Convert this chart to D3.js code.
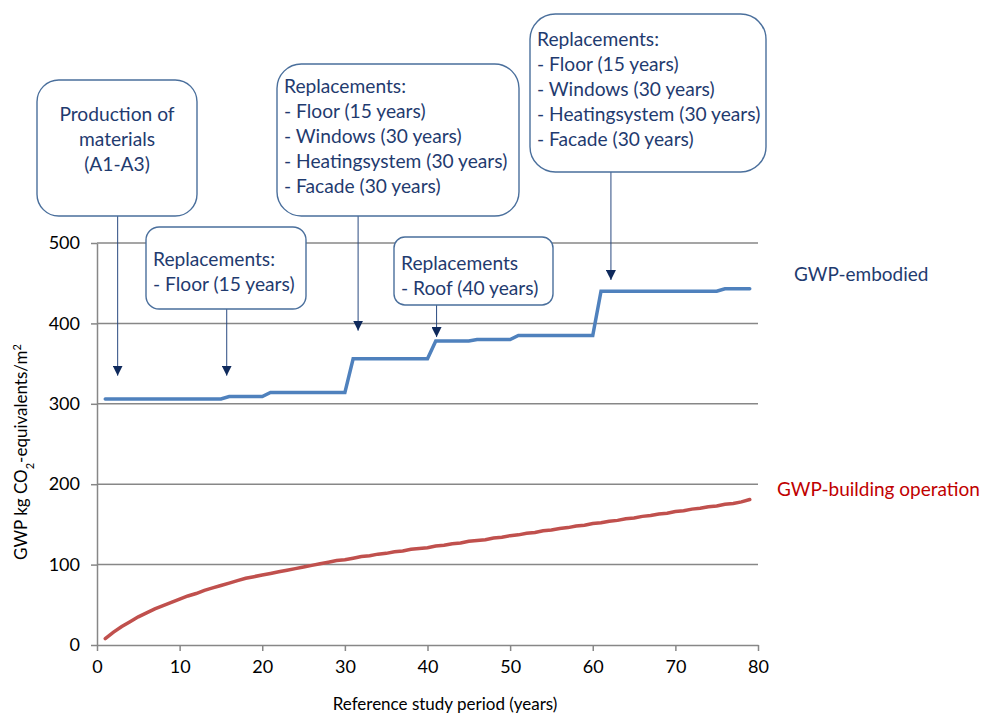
<!DOCTYPE html>
<html>
<head>
<meta charset="utf-8">
<script src="https://cdn.jsdelivr.net/npm/d3@7"></script>
<style>
  body { margin: 0; background: #fff; }
  text { font-family: Lato, "Open Sans", sans-serif; }
</style>
</head>
<body>
<script>
// years of the reference study period
const years = d3.range(1, 80);

// GWP-embodied, kg CO2-eq/m2
const embodied = [
  306, 306, 306, 306, 306, 306, 306, 306, 306, 306, 306, 306, 306, 306, 306,
  309, 309, 309, 309, 309,
  314, 314, 314, 314, 314, 314, 314, 314, 314, 314,
  356, 356, 356, 356, 356, 356, 356, 356, 356, 356,
  378, 378, 378, 378, 378,
  380, 380, 380, 380, 380,
  385, 385, 385, 385, 385, 385, 385, 385, 385, 385,
  440, 440, 440, 440, 440, 440, 440, 440, 440, 440, 440, 440, 440, 440, 440,
  443, 443, 443, 443
];

// GWP-building operation, cumulative
const operation = [
  8, 16, 23, 29, 35, 40, 45, 49, 53, 57,
  61, 64, 68, 71, 74, 77, 80, 83, 85, 87,
  89, 91, 93, 95, 97, 99, 101, 103, 105, 106,
  108, 110, 111, 113, 114, 116, 117, 119, 120, 121,
  123, 124, 126, 127, 129, 130, 131, 133, 134, 136,
  137, 139, 140, 142, 143, 145, 146, 148, 149, 151,
  152, 154, 155, 157, 158, 160, 161, 163, 164, 166,
  167, 169, 170, 172, 173, 175, 176, 178, 181
];

const xTicks = [0, 10, 20, 30, 40, 50, 60, 70, 80];
const yTicks = [0, 100, 200, 300, 400, 500];

// callout boxes: text, box rect, first baseline, arrow year / arrow tip value
const notes = [
  { lines: ['Production of', 'materials', '(A1-A3)'], box: [37, 80, 160, 136], ty: 41, center: true, year: 2.5, tip: 335 },
  { lines: ['Replacements:', '- Floor (15 years)'], box: [146, 227, 160, 82], ty: 39, year: 15.7, tip: 335 },
  { lines: ['Replacements:', '- Floor (15 years)', '- Windows (30 years)', '- Heatingsystem (30 years)', '- Facade (30 years)'], box: [277, 64, 242, 152], ty: 29, year: 31.6, tip: 391 },
  { lines: ['Replacements', '- Roof (40 years)'], box: [394, 237, 159, 68], ty: 33, year: 41.1, tip: 383 },
  { lines: ['Replacements:', '- Floor (15 years)', '- Windows (30 years)', '- Heatingsystem (30 years)', '- Facade (30 years)'], box: [530, 14, 236, 158], ty: 32, year: 62.2, tip: 454 }
];

var width = 982, height = 714;
var navy = '#1f3b6f';
var gridColor = '#878787';

var svg = d3.select('body')
  .append('svg')
  .attr('width', width)
  .attr('height', height);

var x = d3.scaleLinear().domain([0, 80]).range([97, 758]);
var y = d3.scaleLinear().domain([0, 500]).range([645, 243]);

// horizontal gridlines
svg.append('g')
  .selectAll('line')
  .data(yTicks.slice(1))
  .join('line')
  .attr('x1', x(0)).attr('x2', x(80))
  .attr('y1', d => y(d)).attr('y2', d => y(d))
  .attr('stroke', gridColor)
  .attr('stroke-width', 1.5);

// y axis
var yAxis = svg.append('g')
  .attr('transform', 'translate(' + x(0) + ',0)')
  .call(d3.axisLeft(y).tickValues(yTicks).tickSize(6).tickSizeOuter(0).tickPadding(11));
// x axis
var xAxis = svg.append('g')
  .attr('transform', 'translate(0,' + y(0) + ')')
  .call(d3.axisBottom(x).tickValues(xTicks).tickSize(6).tickSizeOuter(0).tickPadding(9));

[yAxis, xAxis].forEach(function (g) {
  g.select('.domain').attr('stroke', gridColor).attr('stroke-width', 1.5);
  g.selectAll('.tick line').attr('stroke', gridColor).attr('stroke-width', 1.5);
  g.selectAll('.tick text')
    .attr('fill', '#000')
    .style('font-size', '18px')
    .style('font-family', 'Lato, sans-serif');
});

// axis titles
svg.append('text')
  .attr('x', 445)
  .attr('y', 710)
  .attr('text-anchor', 'middle')
  .style('font-size', '17px')
  .text('Reference study period (years)');

var yTitle = svg.append('text')
  .attr('transform', 'translate(27,' + ((y(0) + y(500)) / 2 + 8) + ') rotate(-90)')
  .attr('text-anchor', 'middle')
  .style('font-size', '17px');
yTitle.append('tspan').text('GWP kg CO');
yTitle.append('tspan').attr('baseline-shift', 'sub').style('font-size', '11px').text('2');
yTitle.append('tspan').text('-equivalents/m');
yTitle.append('tspan').attr('baseline-shift', 'super').style('font-size', '11px').text('2');

// lines
var line = d3.line()
  .x((d, i) => x(years[i]))
  .y(d => y(d));

svg.append('path')
  .datum(operation)
  .attr('fill', 'none')
  .attr('stroke', '#c0504d')
  .attr('stroke-width', 3.5)
  .attr('stroke-linecap', 'round')
  .attr('d', line);

svg.append('path')
  .datum(embodied)
  .attr('fill', 'none')
  .attr('stroke', '#4f81bd')
  .attr('stroke-width', 3.5)
  .attr('stroke-linecap', 'round')
  .attr('d', line);

// series labels
svg.append('text')
  .attr('x', 794).attr('y', 281)
  .attr('fill', navy)
  .style('font-size', '19px')
  .text('GWP-embodied');

svg.append('text')
  .attr('x', 777).attr('y', 496)
  .attr('fill', '#c00000')
  .style('font-size', '19px')
  .text('GWP-building operation');

// arrow head
svg.append('defs').append('marker')
  .attr('id', 'head')
  .attr('markerUnits', 'userSpaceOnUse')
  .attr('viewBox', '0 0 10 10')
  .attr('refX', 10).attr('refY', 5)
  .attr('markerWidth', 10).attr('markerHeight', 10)
  .attr('orient', 'auto')
  .append('path')
  .attr('d', 'M0,0L10,5L0,10Z')
  .attr('fill', '#0f2a5c');

// callouts
var note = svg.append('g')
  .selectAll('g')
  .data(notes)
  .join('g');

note.append('line')
  .attr('x1', d => x(d.year)).attr('x2', d => x(d.year))
  .attr('y1', d => d.box[1] + d.box[3])
  .attr('y2', d => y(d.tip))
  .attr('stroke', '#2a4a80')
  .attr('stroke-width', 1)
  .attr('marker-end', 'url(#head)');

note.append('rect')
  .attr('x', d => d.box[0]).attr('y', d => d.box[1])
  .attr('width', d => d.box[2]).attr('height', d => d.box[3])
  .attr('rx', d => Math.min(d.box[2], d.box[3]) * 0.16)
  .attr('fill', '#fff')
  .attr('stroke', '#4a6f9c')
  .attr('stroke-width', 1.4);

note.each(function (d) {
  var t = d3.select(this).append('text')
    .attr('fill', navy)
    .style('font-size', '19.2px')
    .attr('text-anchor', d.center ? 'middle' : 'start');
  d.lines.forEach(function (s, i) {
    t.append('tspan')
      .attr('x', d.center ? d.box[0] + d.box[2] / 2 : d.box[0] + 7)
      .attr('y', d.box[1] + d.ty + i * 25)
      .text(s);
  });
});
</script>
</body>
</html>
